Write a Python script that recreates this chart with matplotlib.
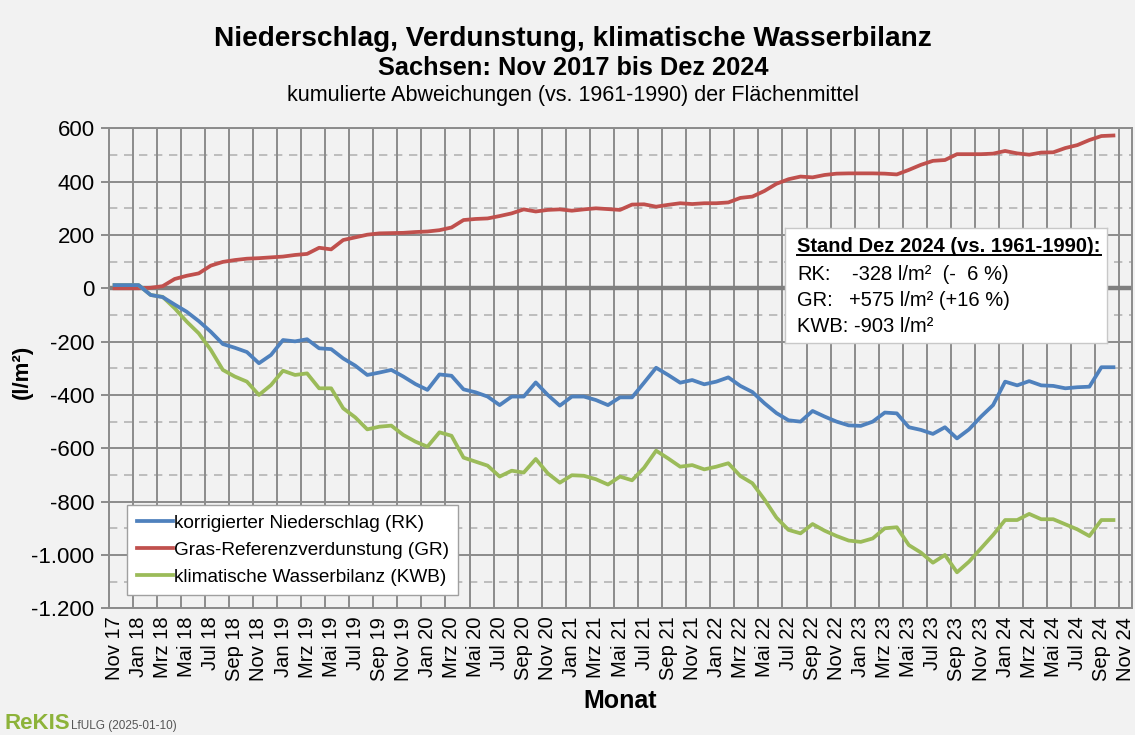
import matplotlib
matplotlib.use("Agg")
import matplotlib.pyplot as plt
from matplotlib.lines import Line2D
from matplotlib.ticker import MultipleLocator, FuncFormatter

plt.rcParams['font.family'] = ['Liberation Sans', 'DejaVu Sans']

# ---------------- data (kumulierte Abweichungen, l/m²) ----------------
rk = [12, 12, 12, -25, -33, -61, -88, -123, -163, -209, -223, -239, -281, -250,
      -194, -199, -191, -225, -228, -263, -290, -325, -316, -306, -331, -359,
      -381, -323, -328, -379, -390, -406, -438, -406, -406, -353, -400, -440,
      -406, -406, -419, -438, -409, -409, -354, -298, -325, -354, -344, -360,
      -350, -334, -366, -389, -431, -468, -495, -500, -460, -481, -500, -514,
      -516, -500, -466, -469, -521, -531, -546, -521, -563, -529, -481, -438,
      -350, -364, -348, -364, -366, -375, -371, -369, -296, -296]
gr = [0, 0, 0, 2, 8, 35, 47, 56, 85, 99, 106, 111, 113, 116, 119, 125, 129, 152,
      146, 181, 191, 201, 206, 207, 208, 211, 213, 218, 228, 256, 260, 262, 271,
      281, 296, 288, 294, 296, 291, 296, 300, 297, 294, 314, 315, 306, 313, 319,
      316, 319, 319, 322, 339, 344, 365, 392, 409, 419, 416, 425, 430, 431, 431,
      431, 430, 427, 444, 463, 478, 481, 503, 503, 503, 505, 515, 506, 501, 509,
      510, 526, 537, 556, 571, 573]
kwb = [12, 12, 12, -25, -32, -75, -125, -169, -231, -306, -331, -350, -400, -363,
       -309, -325, -319, -375, -375, -450, -484, -529, -519, -515, -550, -575,
       -594, -540, -553, -635, -650, -665, -706, -684, -691, -640, -694, -729,
       -701, -703, -716, -736, -706, -720, -673, -609, -638, -669, -663, -679,
       -669, -656, -704, -731, -792, -860, -906, -919, -884, -909, -929, -946,
       -951, -938, -900, -896, -963, -991, -1029, -1000, -1065, -1025, -975,
       -925, -869, -869, -846, -866, -866, -885, -904, -929, -869, -869]
tick_labels = ["Nov 17", "Jan 18", "Mrz 18", "Mai 18", "Jul 18", "Sep 18", "Nov 18",
               "Jan 19", "Mrz 19", "Mai 19", "Jul 19", "Sep 19", "Nov 19",
               "Jan 20", "Mrz 20", "Mai 20", "Jul 20", "Sep 20", "Nov 20",
               "Jan 21", "Mrz 21", "Mai 21", "Jul 21", "Sep 21", "Nov 21",
               "Jan 22", "Mrz 22", "Mai 22", "Jul 22", "Sep 22", "Nov 22",
               "Jan 23", "Mrz 23", "Mai 23", "Jul 23", "Sep 23", "Nov 23",
               "Jan 24", "Mrz 24", "Mai 24", "Jul 24", "Sep 24", "Nov 24"]
series_names = ["korrigierter Niederschlag (RK)", "Gras-Referenzverdunstung (GR)",
                "klimatische Wasserbilanz (KWB)"]
box_title = "Stand Dez 2024 (vs. 1961-1990):"
box_lines = [("RK:", "-328 l/m²  (-  6 %)"), ("GR:", "+575 l/m² (+16 %)"),
             ("KWB:", "-903 l/m²")]

# ---------------- figure ----------------
W, H = 1135, 735
BG = "#f2f2f2"
fig = plt.figure(figsize=(W / 100, H / 100), dpi=100, facecolor=BG)

def fx(x):
    return x / W

def fy(y):
    return 1 - y / H

L, R, T, B = 108.5, 1131.5, 128.3, 608.3
ax = fig.add_axes([fx(L), fy(B), fx(R - L), fy(T) - fy(B)])
ax.set_facecolor(BG)

n_cat = len(tick_labels) * 2 - 1  # 85 categories on the axis
ax.set_xlim(-0.5, n_cat - 0.5)
ax.set_ylim(-1200, 600)

grid_col = "#8c8c8c"
for v in range(-1200, 601, 200):
    ax.axhline(v, color=grid_col, lw=1.4, zorder=1)
for v in range(-1100, 600, 200):
    ax.axhline(v, color="#b4b4b4", lw=1.2, ls=(0, (5, 4)), zorder=1)
for k in range(1, len(tick_labels)):
    ax.axvline(2 * k - 0.5, color=grid_col, lw=1.4, zorder=1)
ax.axhline(0, color="#7f7f7f", lw=3.2, zorder=2)

xs = list(range(len(rk)))
c_rk, c_gr, c_kwb = "#4f81bd", "#c0504d", "#9bbb59"
ax.plot(xs, gr, color=c_gr, lw=2.7, zorder=4, solid_joinstyle="round")
ax.plot(xs, kwb, color=c_kwb, lw=2.7, zorder=4, solid_joinstyle="round")
ax.plot(xs, rk, color=c_rk, lw=2.7, zorder=5, solid_joinstyle="round")

for s in ax.spines.values():
    s.set_color(grid_col)
    s.set_linewidth(1.4)

ax.set_xticks(range(0, n_cat, 2))
ax.set_xticklabels(tick_labels, rotation=90, fontsize=14.5)
ax.tick_params(axis="x", length=0, pad=6)
ax.yaxis.set_major_locator(MultipleLocator(200))
ax.yaxis.set_major_formatter(FuncFormatter(lambda v, p: f"{int(v):,}".replace(",", ".")))
ax.tick_params(axis="y", length=6, color=grid_col, width=1.4, labelsize=16, pad=4)

ax.set_xlabel("Monat", fontsize=18, fontweight="bold", labelpad=6)
fig.text(fx(22), fy(372), "(l/m²)", rotation=90, fontsize=16, fontweight="bold",
         ha="center", va="center")

# titles
fig.text(fx(573), fy(39), "Niederschlag, Verdunstung, klimatische Wasserbilanz",
         fontsize=20.2, fontweight="bold", ha="center", va="center")
fig.text(fx(573), fy(68), "Sachsen: Nov 2017 bis Dez 2024",
         fontsize=18.3, fontweight="bold", ha="center", va="center")
fig.text(fx(573), fy(96), "kumulierte Abweichungen (vs. 1961-1990) der Flächenmittel",
         fontsize=15.5, ha="center", va="center")

# legend
handles = [Line2D([], [], color=c, lw=2.7) for c in (c_rk, c_gr, c_kwb)]
leg = ax.legend(handles, series_names, loc="upper left",
                bbox_to_anchor=(fx(127), fy(505)), bbox_transform=fig.transFigure,
                fontsize=13.7, frameon=True, fancybox=False, framealpha=1,
                edgecolor="#a0a0a0", facecolor="white", handlelength=1.9,
                handletextpad=0.05, labelspacing=0.5, borderpad=0.5,
                borderaxespad=0)
leg.get_frame().set_linewidth(1.0)
leg.set_zorder(10)

# info box
bx0, by0, bx1, by1 = 785, 228, 1107, 343
box = fig.add_axes([fx(bx0), fy(by1), fx(bx1 - bx0), fy(by0) - fy(by1)])
box.set_xticks([]); box.set_yticks([])
box.set_facecolor("white")
for s in box.spines.values():
    s.set_color("#c8c8c8"); s.set_linewidth(1.0)
box.set_zorder(11)
t_title = fig.text(fx(797), fy(246), box_title, fontsize=14.5, fontweight="bold",
                   ha="left", va="center", zorder=12)
ys = [274, 301, 327]
vx = [852, 849, None]
for (lab, val), yy, xx in zip(box_lines, ys, vx):
    if xx is None:
        fig.text(fx(797), fy(yy), lab + " " + val, fontsize=14.5, ha="left", va="center", zorder=12)
    else:
        fig.text(fx(797), fy(yy), lab, fontsize=14.5, ha="left", va="center", zorder=12)
        fig.text(fx(xx), fy(yy), val, fontsize=14.5, ha="left", va="center", zorder=12)

# underline for box title
fig.canvas.draw()
bb = t_title.get_window_extent()
uy = bb.y0 + 1
fig.add_artist(Line2D([bb.x0 / W, bb.x1 / W], [uy / H, uy / H], color="black",
                      lw=1.4, transform=fig.transFigure, zorder=13))

# footer
fig.text(fx(4), fy(729), "ReKIS", fontsize=16, fontweight="bold", color="#8db33a",
         ha="left", va="baseline")
fig.text(fx(71), fy(729), "LfULG (2025-01-10)", fontsize=8.5, color="#555555",
         ha="left", va="baseline")

fig.savefig("out.png", dpi=100, facecolor=BG)
